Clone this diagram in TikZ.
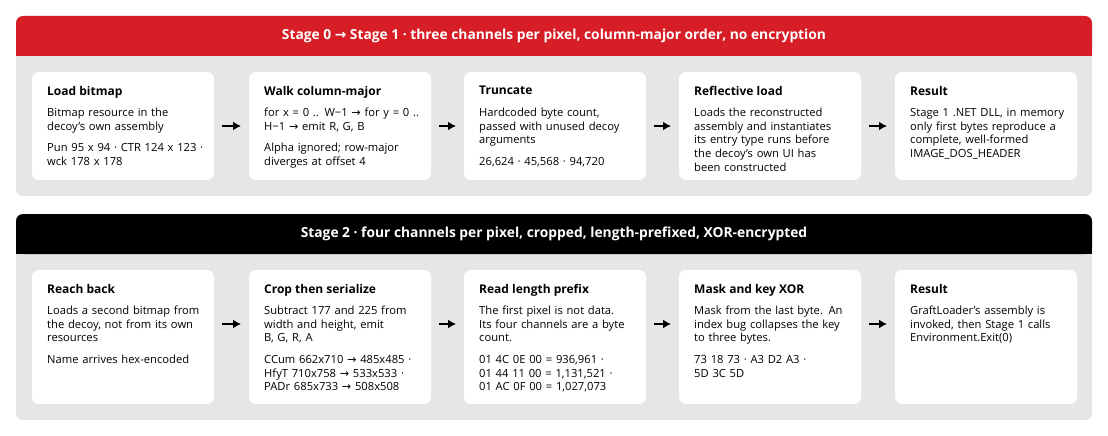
\documentclass[tikz,border=0pt]{standalone}
\usepackage{fontspec}
\usetikzlibrary{arrows.meta}
\setmainfont{Open Sans}
\newfontfamily\arr{DejaVu Sans}
\newcommand{\ar}{{\arr\char"2192}}
\definecolor{redh}{HTML}{D71E27}
\definecolor{panel}{HTML}{E6E6E6}
\begin{document}
\begin{tikzpicture}[x=1pt,y=-1pt,
 pnl/.style={fill=panel,rounded corners=7pt},
 hd/.style={font=\fontsize{13.8}{15}\selectfont\bfseries,text=white},
 ttl/.style={anchor=north west,inner sep=0,font=\fontsize{12}{14}\selectfont\bfseries},
 txt/.style={anchor=north west,inner sep=0,align=left,text width=172pt,font=\fontsize{11.2}{13.6}\selectfont},
 con/.style={-{Latex[length=8pt,width=9pt]},line width=2pt}]
\useasboundingbox (0,0) rectangle (1108,436);
% panels
\fill[pnl] (16,16) rectangle (1092,196);
\fill[redh,rounded corners=7pt] (16,16) rectangle (1092,56);
\fill[redh] (16,40) rectangle (1092,56);
\node[hd] (h1) at (554,36) {Stage 0 \ar{} Stage 1 · three channels per pixel, column-major order, no encryption};
\fill[pnl] (16,214) rectangle (1092,420);
\fill[black,rounded corners=7pt] (16,214) rectangle (1092,254);
\fill[black] (16,238) rectangle (1092,254);
\node[hd] (h2) at (554,234) {Stage 2 · four channels per pixel, cropped, length-prefixed, XOR-encrypted};
% boxes
\foreach \n/\x in {a/32,b/249,c/464,d/679,e/895}{
 \fill[white,rounded corners=7pt] (\x,72) rectangle ++(182,108);
 \coordinate (\n w) at (\x,126); \coordinate (\n e) at (\x+182,126);
 \coordinate (\n t) at (\x+15,86);
}
\foreach \n/\x in {f/32,g/249,h/464,i/679,j/895}{
 \fill[white,rounded corners=7pt] (\x,270) rectangle ++(182,134);
 \coordinate (\n w) at (\x,324); \coordinate (\n e) at (\x+182,324);
 \coordinate (\n t) at (\x+15,284);
}
\newcommand{\bx}[4]{%
 \node[ttl] (#1T) at (#1t) {#2};
 \node[txt] (#1B) at ([yshift=-22]#1t) {#3\\[8pt]#4};}
\newcommand{\bxo}[3]{%
 \node[ttl] (#1T) at (#1t) {#2};
 \node[txt] (#1B) at ([yshift=-22]#1t) {#3};}
\bx{a}{Load bitmap}{Bitmap resource in the\\decoy's own assembly}{Pun 95 x 94 · CTR 124 x 123 ·\\wck 178 x 178}
\bx{b}{Walk column-major}{for x = 0 .. W\char"2212 1 \ar{} for y = 0 ..\\H\char"2212 1 \ar{} emit R, G, B}{Alpha ignored; row-major\\diverges at offset 4}
\bx{c}{Truncate}{Hardcoded byte count,\\passed with unused decoy\\arguments}{26,624 · 45,568 · 94,720}
\bxo{d}{Reflective load}{Loads the reconstructed\\assembly and instantiates\\its entry type runs before\\the decoy's own UI has\\been constructed}
\bxo{e}{Result}{Stage 1 .NET DLL, in memory\\only first bytes reproduce a\\complete, well-formed\\IMAGE\_DOS\_HEADER}
\bx{f}{Reach back}{Loads a second bitmap from\\the decoy, not from its own\\resources}{Name arrives hex-encoded}
\bx{g}{Crop then serialize}{Subtract 177 and 225 from\\width and height, emit\\B, G, R, A}{CCum 662x710 \ar{} 485x485 ·\\HfyT 710x758 \ar{} 533x533 ·\\PADr 685x733 \ar{} 508x508}
\bx{h}{Read length prefix}{The first pixel is not data.\\Its four channels are a byte\\count.}{01 4C 0E 00 = 936,961 ·\\01 44 11 00 = 1,131,521 ·\\01 AC 0F 00 = 1,027,073}
\bx{i}{Mask and key XOR}{Mask from the last byte. An\\index bug collapses the key\\to three bytes.}{73 18 73 · A3 D2 A3 ·\\5D 3C 5D}
\bxo{j}{Result}{GraftLoader's assembly is\\invoked, then Stage 1 calls\\Environment.Exit(0)}
\foreach \p/\q in {a/b,b/c,c/d,d/e,f/g,g/h,h/i,i/j}{
 \draw[con] ([xshift=8]\p e) -- ([xshift=-8]\q w);
}
\end{tikzpicture}
\end{document}
